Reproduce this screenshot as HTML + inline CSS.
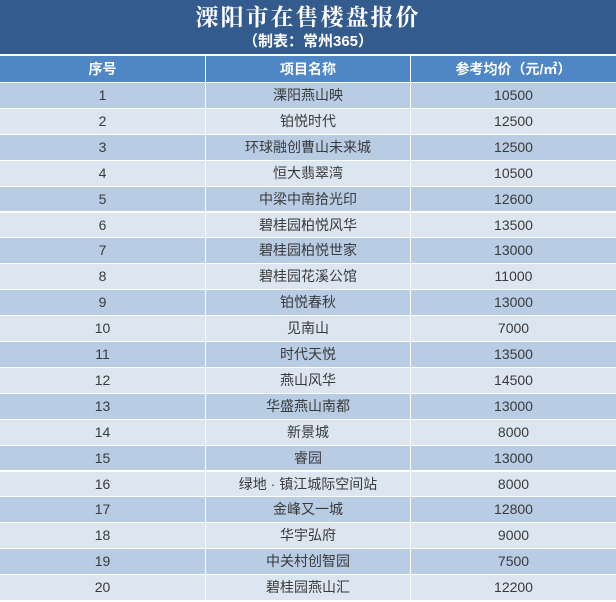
<!DOCTYPE html><html><head><meta charset="utf-8"><style>
body{margin:0;width:616px;height:602px;overflow:hidden;background:#fff;font-family:"Liberation Sans","Noto Sans CJK SC",sans-serif;position:relative}
.t{position:absolute;left:0;top:0;width:616px;height:54px;background:#335b8d;color:#fff;text-align:center}
.t1{position:absolute;top:4px;width:100%;font-family:"Liberation Serif","Noto Serif CJK SC",serif;font-size:23px;font-weight:bold;line-height:28px;letter-spacing:2px}
.t2{position:absolute;top:33px;width:100%;font-size:15px;font-weight:bold;line-height:18px}
.r{position:absolute;left:0;width:616px;display:flex;color:#3a3a3a;font-size:14px}
.r div{box-sizing:border-box;text-align:center;border-right:1px solid #fff}
.c1{width:206px}.c2{width:205px}.c3{width:205px;border-right:none!important}
.h{top:56px;height:26px;line-height:26px;background:#4f86c6;color:#fff;font-weight:bold;font-size:14px}
.o{background:#b8cce4}.e{background:#dce6f1}
</style></head><body>
<div class="t"><div class="t1">溧阳市在售楼盘报价</div><div class="t2">（制表：常州365）</div></div>
<div class="r h"><div class="c1">序号</div><div class="c2">项目名称</div><div class="c3">参考均价（元/㎡）</div></div>
<div id="rows"></div>
<script>
var d=[["溧阳燕山映",10500],["铂悦时代",12500],["环球融创曹山未来城",12500],["恒大翡翠湾",10500],["中梁中南拾光印",12600],["碧桂园柏悦风华",13500],["碧桂园柏悦世家",13000],["碧桂园花溪公馆",11000],["铂悦春秋",13000],["见南山",7000],["时代天悦",13500],["燕山风华",14500],["华盛燕山南都",13000],["新景城",8000],["睿园",13000],["绿地 · 镇江城际空间站",8000],["金峰又一城",12800],["华宇弘府",9000],["中关村创智园",7500],["碧桂园燕山汇",12200]];
var h="";d.forEach(function(x,i){var t=83+i*25.9;h+='<div class="r '+(i%2?'e':'o')+'" style="top:'+t+'px;height:24.9px;line-height:25px"><div class="c1">'+(i+1)+'</div><div class="c2">'+x[0]+'</div><div class="c3">'+x[1]+'</div></div>';});
document.getElementById("rows").innerHTML=h;
</script>
</body></html>
